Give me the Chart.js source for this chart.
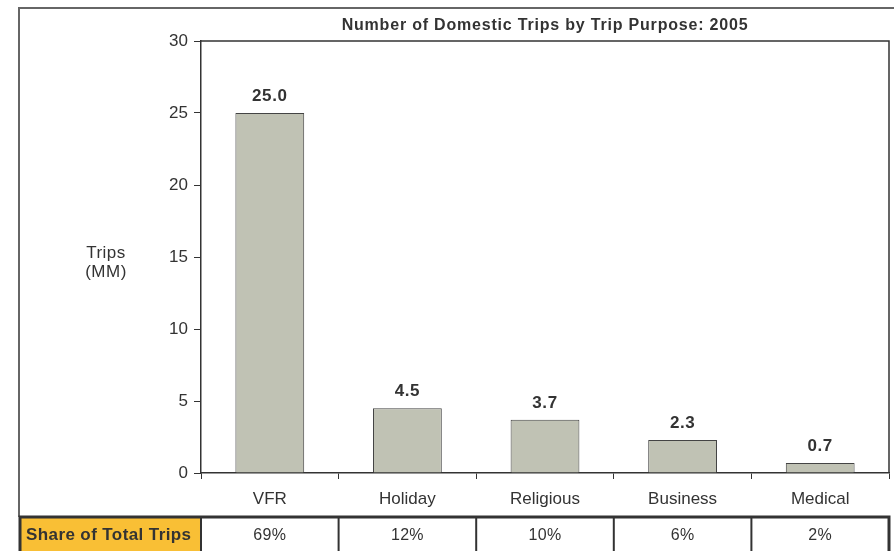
<!DOCTYPE html>
<html>
<head>
<meta charset="utf-8">
<script src="https://cdn.jsdelivr.net/npm/chart.js@4"></script>
<style>
  html, body { margin: 0; padding: 0; background: #fff; }
  #wrap { width: 894px; height: 551px; }
</style>
</head>
<body>
<div id="wrap"><canvas id="myChart" width="894" height="551"></canvas></div>
<script>
// chart data
var purposes = ['VFR', 'Holiday', 'Religious', 'Business', 'Medical'];
var trips = [25.0, 4.5, 3.7, 2.3, 0.7];
var shares = ['69%', '12%', '10%', '6%', '2%'];
var yTicks = [0, 5, 10, 15, 20, 25, 30];

var font = '"Liberation Sans", Arial, sans-serif';
var textColor = '#333';

// frame, titles, labels and share table drawn around the chart
var extras = {
    id: 'extras',
    beforeDraw: function (chart) {
        var c = chart.ctx;
        c.save();
        c.strokeStyle = '#666';
        c.lineWidth = 2;
        c.beginPath();
        c.moveTo(19, 517);
        c.lineTo(19, 8);
        c.lineTo(894, 8);
        c.stroke();
        c.restore();
    },
    afterDatasetsDraw: function (chart) {
        var c = chart.ctx;
        var area = chart.chartArea;
        var x = chart.scales.x;
        c.save();
        // plot border top and right
        c.strokeStyle = '#333';
        c.lineWidth = 1.5;
        c.beginPath();
        c.moveTo(area.left, area.top);
        c.lineTo(area.right, area.top);
        c.lineTo(area.right, area.bottom);
        c.stroke();

        // title
        c.fillStyle = textColor;
        c.font = 'bold 16px ' + font;
        c.letterSpacing = '0.8px';
        c.textAlign = 'center';
        c.textBaseline = 'middle';
        c.fillText('Number of Domestic Trips by Trip Purpose: 2005', (area.left + area.right) / 2, 26);

        // y title
        c.font = '17px ' + font;
        c.letterSpacing = '0.5px';
        c.fillText('Trips', 106, 253);
        c.fillText('(MM)', 106, 272);

        // value labels
        c.font = 'bold 17px ' + font;
        c.letterSpacing = '0.6px';
        c.textBaseline = 'bottom';
        chart.getDatasetMeta(0).data.forEach(function (bar, i) {
            c.fillText(trips[i].toFixed(1), bar.x, bar.y - 8);
        });

        // share table
        var top = 517, bottom = 553;
        var half = (x.getPixelForValue(1) - x.getPixelForValue(0)) / 2;
        var left = 20, firstRight = x.getPixelForValue(0) - half;
        c.fillStyle = '#F9BF35';
        c.fillRect(left, top, firstRight - left, bottom - top);
        c.strokeStyle = '#333';
        c.lineWidth = 2;
        for (var i = 0; i <= purposes.length; i++) {
            var bx = x.getPixelForValue(i) - half;
            c.beginPath();
            c.moveTo(bx, top);
            c.lineTo(bx, bottom);
            c.stroke();
        }
        c.lineWidth = 3;
        c.strokeRect(left, top, x.getPixelForValue(purposes.length - 1) + half - left, bottom - top + 5);
        c.fillStyle = textColor;
        c.textBaseline = 'middle';
        c.textAlign = 'left';
        c.font = 'bold 17px ' + font;
        c.letterSpacing = '0.4px';
        c.fillText('Share of Total Trips', 26, 535);
        c.textAlign = 'center';
        c.font = '16px ' + font;
        c.letterSpacing = '0.3px';
        shares.forEach(function (s, i) {
            c.fillText(s, x.getPixelForValue(i), 536);
        });
        c.restore();
    }
};

var ctx = document.getElementById('myChart').getContext('2d');
var myChart = new Chart(ctx, {
    type: 'bar',
    data: {
        labels: purposes,
        datasets: [{
            label: 'Trips (MM)',
            data: trips,
            backgroundColor: '#C0C2B4',
            borderColor: '#444',
            borderWidth: 1,
            categoryPercentage: 1,
            barPercentage: 0.5
        }]
    },
    options: {
        responsive: false,
        animation: false,
        layout: { padding: { top: 41, right: 5, left: 0, bottom: 0 } },
        plugins: {
            legend: { display: false },
            tooltip: { enabled: false }
        },
        scales: {
            x: {
                afterFit: function (s) { s.height = 78; },
                grid: { offset: true, drawOnChartArea: false, tickLength: 6, color: '#333' },
                border: { color: '#333', width: 1.5 },
                ticks: { color: textColor, font: { family: font, size: 17 }, padding: 10 }
            },
            y: {
                min: 0,
                max: 30,
                afterFit: function (s) { s.width = 201; },
                afterBuildTicks: function (s) { s.ticks = yTicks.map(function (v) { return { value: v }; }); },
                grid: { drawOnChartArea: false, tickLength: 7, color: '#333' },
                border: { color: '#333', width: 1.5 },
                ticks: { color: textColor, font: { family: font, size: 17 }, padding: 6 }
            }
        }
    },
    plugins: [extras]
});
</script>
</body>
</html>
